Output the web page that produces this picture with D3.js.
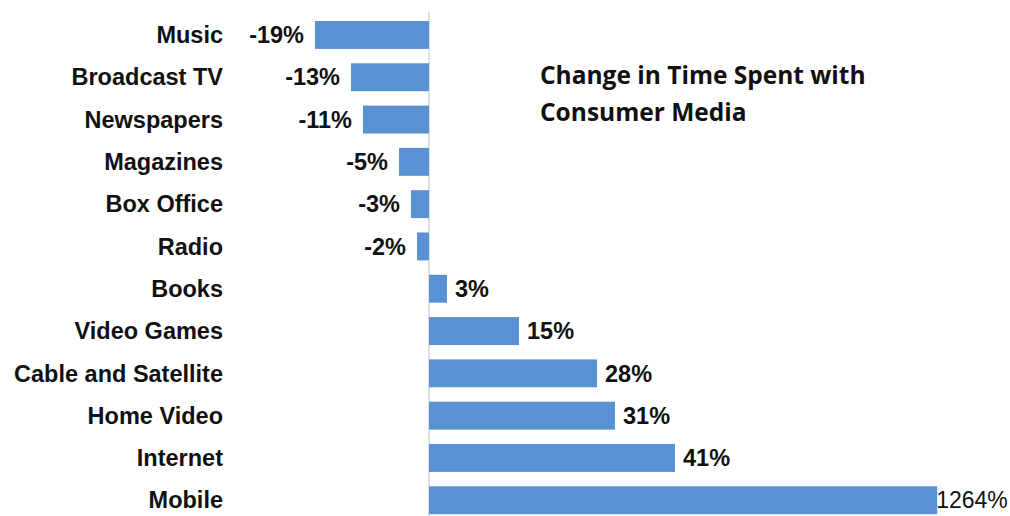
<!DOCTYPE html>
<html>
<head>
<meta charset="utf-8">
<script src="https://cdn.jsdelivr.net/npm/d3@7"></script>
<style>
  body { margin: 0; background: #fff; }
</style>
</head>
<body>
<div id="chart"></div>
<script>
// data
const categories = ["Music", "Broadcast TV", "Newspapers", "Magazines", "Box Office", "Radio",
  "Books", "Video Games", "Cable and Satellite", "Home Video", "Internet", "Mobile"]
const values = [-19, -13, -11, -5, -3, -2, 3, 15, 28, 31, 41, 1264]
const titleLines = ["Change in Time Spent with", "Consumer Media"]

const width = 1010, height = 516
const svg = d3.select("#chart").append("svg")
  .attr("width", width).attr("height", height)

const data = categories.map((c, i) => ({ name: c, value: values[i] }))

// the axis is cut off, the Mobile bar runs into the cap
const x = d3.scaleLinear().domain([-20, 84.7]).range([309, 937.2]).clamp(true)
const y = d3.scaleBand().domain(categories).range([13.8, 521.4])
  .paddingInner(0.34).paddingOuter(0.17)

svg.append("line")
  .attr("x1", x(0)).attr("x2", x(0))
  .attr("y1", 12).attr("y2", height)
  .attr("stroke", "#c9ccd0").attr("stroke-width", 1.2)

svg.selectAll(".bar").data(data).join("rect")
  .attr("class", "bar")
  .attr("x", d => Math.min(x(0), x(d.value)))
  .attr("width", d => Math.abs(x(d.value) - x(0)))
  .attr("y", d => y(d.name))
  .attr("height", y.bandwidth())
  .attr("fill", "#5a91d2")

// category labels
svg.selectAll(".cat").data(data).join("text")
  .attr("class", "cat")
  .attr("x", 223)
  .attr("y", d => y(d.name) + y.bandwidth() / 2)
  .attr("dy", "0.35em")
  .attr("text-anchor", "end")
  .style("font-family", "Liberation Sans, Arial, sans-serif")
  .style("font-weight", "bold")
  .style("font-size", "23.5px")
  .attr("fill", "#111")
  .text(d => d.name)

// value labels
svg.selectAll(".val").data(data).join("text")
  .attr("class", "val")
  .attr("x", d => d.value < 0 ? x(d.value) - 11 : (d.value > 100 ? x(d.value) - 1 : x(d.value) + 8))
  .attr("y", d => y(d.name) + y.bandwidth() / 2)
  .attr("dy", "0.35em")
  .attr("text-anchor", d => d.value < 0 ? "end" : "start")
  .style("font-family", "Liberation Sans, Arial, sans-serif")
  .style("font-weight", d => d.value > 100 ? "normal" : "bold")
  .style("font-size", d => d.value > 100 ? "23px" : "23.5px")
  .attr("fill", "#111")
  .text(d => d.value + "%")

svg.append("text")
  .attr("x", 540).attr("y", 84)
  .style("font-family", "Open Sans, sans-serif")
  .style("font-weight", "bold")
  .style("font-size", "24.5px")
  .attr("fill", "#111")
  .selectAll("tspan").data(titleLines).join("tspan")
  .attr("x", 540)
  .attr("dy", (d, i) => i ? 37 : 0)
  .text(d => d)
</script>
</body>
</html>
